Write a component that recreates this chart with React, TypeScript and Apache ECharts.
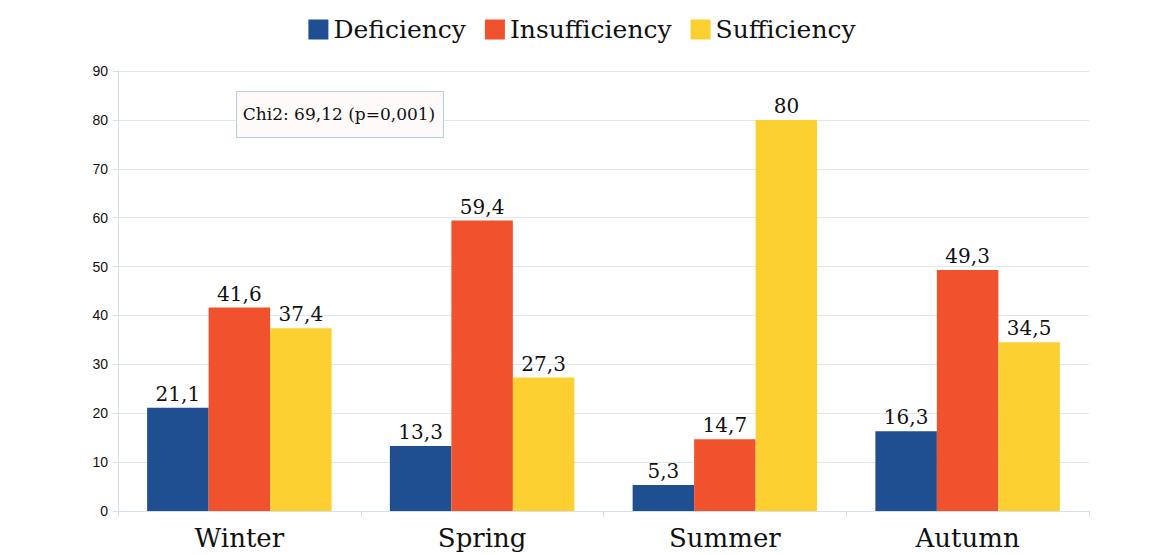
import React, { useEffect, useRef } from "react";
import * as echarts from "echarts";

const categories = ["Winter", "Spring", "Summer", "Autumn"];
const seriesNames = ["Deficiency", "Insufficiency", "Sufficiency"];
const deficiency = [21.1, 13.3, 5.3, 16.3];
const insufficiency = [41.6, 59.4, 14.7, 49.3];
const sufficiency = [37.4, 27.3, 80, 34.5];
const colors = ["#1f4e91", "#f0522d", "#fdd031"];
const annotation = "Chi2: 69,12 (p=0,001)";

const SERIF = "'DejaVu Serif', 'Liberation Serif', serif";
const SANS = "'Liberation Sans', Arial, sans-serif";

export default function App() {
  const ref = useRef<HTMLDivElement>(null);
  useEffect(() => {
    if (!ref.current) return;
    const chart = echarts.init(ref.current, null, { renderer: "svg" });
    const datasets = [deficiency, insufficiency, sufficiency];
    chart.setOption({
      animation: false,
      backgroundColor: "#ffffff",
      legend: {
        top: 12,
        left: "center",
        itemWidth: 20,
        itemHeight: 20,
        itemGap: 19,
        icon: "rect",
        textStyle: { fontFamily: SERIF, fontSize: 25, color: "#111" },
        data: seriesNames,
      },
      grid: { left: 118, right: 75, top: 71, bottom: 44 },
      xAxis: {
        type: "category",
        data: categories,
        axisLine: { show: true, lineStyle: { color: "#d3e1ea" } },
        axisTick: { show: true, length: 6, lineStyle: { color: "#d3e1ea" } },
        axisLabel: { fontFamily: SERIF, fontSize: 26, color: "#111", margin: 14 },
      },
      yAxis: {
        type: "value",
        min: 0,
        max: 90,
        interval: 10,
        axisLine: { show: true, lineStyle: { color: "#d3e1ea" } },
        axisTick: { show: true, length: 5, lineStyle: { color: "#d3e1ea" } },
        splitLine: { show: true, lineStyle: { color: "#dde7ee", width: 1 } },
        axisLabel: { fontFamily: SANS, fontSize: 14, color: "#111", margin: 10 },
      },
      series: datasets.map((d, i) => ({
        name: seriesNames[i],
        type: "bar",
        data: d,
        barGap: "0%",
        barCategoryGap: "24%",
        itemStyle: { color: colors[i] },
        label: {
          show: true,
          position: "top",
          distance: 4,
          fontFamily: SERIF,
          fontSize: 20,
          color: "#111",
          formatter: (p: any) => String(p.value).replace(".", ","),
        },
      })),
      graphic: [
        {
          type: "rect",
          left: 236,
          top: 91,
          shape: { width: 207, height: 46 },
          style: { fill: "#fffafa", stroke: "#b5cfdc", lineWidth: 1 },
          z: 10,
        },
        {
          type: "text",
          x: 339,
          y: 114,
          style: {
            text: annotation,
            fontFamily: SERIF,
            fontSize: 17,
            fill: "#111",
            align: "center",
            verticalAlign: "middle",
          },
          z: 11,
        },
      ],
    });
    return () => chart.dispose();
  }, []);
  return <div ref={ref} style={{ width: 1164, height: 555, position: "absolute", left: 0, top: 0 }} />;
}
